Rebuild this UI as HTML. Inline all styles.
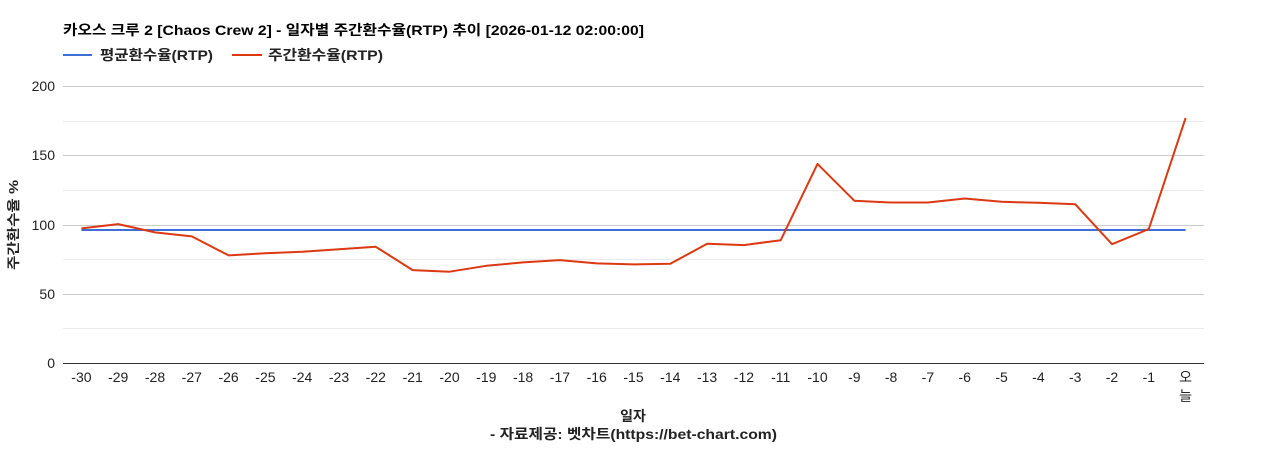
<!DOCTYPE html>
<html><head><meta charset="utf-8"><style>
html,body{margin:0;padding:0;background:#fff;}
svg{display:block;}
text{font-family:"Liberation Sans","Noto Sans CJK KR",sans-serif;}
</style></head><body>
<svg width="1268" height="450" viewBox="0 0 1268 450" xmlns="http://www.w3.org/2000/svg">
<rect width="1268" height="450" fill="#fff"/>
<text x="63" y="35" font-size="14" font-weight="bold" fill="#000" textLength="581" lengthAdjust="spacingAndGlyphs">카오스 크루 2 [Chaos Crew 2] - 일자별 주간환수율(RTP) 추이 [2026-01-12 02:00:00]</text>
<line x1="63" y1="55" x2="92" y2="55" stroke="#3d6fd6" stroke-width="2"/>
<text x="100" y="60" font-size="14" font-weight="bold" fill="#222" textLength="113" lengthAdjust="spacingAndGlyphs">평균환수율(RTP)</text>
<line x1="232" y1="55" x2="262" y2="55" stroke="#dc3912" stroke-width="2"/>
<text x="268" y="60" font-size="14" font-weight="bold" fill="#222" textLength="115" lengthAdjust="spacingAndGlyphs">주간환수율(RTP)</text>
<g stroke="#ebebeb" stroke-width="1">
<line x1="63" y1="121.5" x2="1204" y2="121.5"/>
<line x1="63" y1="190.5" x2="1204" y2="190.5"/>
<line x1="63" y1="259.5" x2="1204" y2="259.5"/>
<line x1="63" y1="328.5" x2="1204" y2="328.5"/>
</g>
<g stroke="#cccccc" stroke-width="1">
<line x1="63" y1="86.5" x2="1204" y2="86.5"/>
<line x1="63" y1="155.5" x2="1204" y2="155.5"/>
<line x1="63" y1="225.5" x2="1204" y2="225.5"/>
<line x1="63" y1="294.5" x2="1204" y2="294.5"/>
</g>
<line x1="63" y1="363.5" x2="1204" y2="363.5" stroke="#333" stroke-width="1"/>
<g font-size="14" fill="#222" text-anchor="end">
<text x="55" y="91">200</text>
<text x="55" y="160">150</text>
<text x="55" y="230">100</text>
<text x="55" y="299">50</text>
<text x="55" y="368">0</text>
</g>
<text transform="translate(18,225) rotate(-90)" font-size="13" font-weight="bold" fill="#222" text-anchor="middle" textLength="90" lengthAdjust="spacingAndGlyphs">주간환수율 %</text>
<line x1="81.4" y1="230" x2="1185.6" y2="230" stroke="#3d6fd6" stroke-width="2"/>
<polyline fill="none" stroke="#dc3912" stroke-width="2" stroke-linejoin="round" points="81.4,228.4 118.2,224.1 155.0,232.4 191.8,236.4 228.6,255.4 265.4,253.2 302.2,251.8 339.0,249.2 375.8,246.8 412.7,270.1 449.5,271.7 486.3,265.8 523.1,262.4 559.9,260.1 596.7,263.4 633.5,264.4 670.3,263.8 707.1,243.8 743.9,245.1 780.7,240.2 817.5,163.9 854.3,200.7 891.1,202.5 927.9,202.5 964.7,198.5 1001.6,201.8 1038.4,202.8 1075.2,204.2 1112.0,244.2 1148.8,229.1 1185.6,118.0"/>
<g font-size="14" fill="#222" text-anchor="middle">
<text x="81.4" y="382">-30</text>
<text x="118.2" y="382">-29</text>
<text x="155.0" y="382">-28</text>
<text x="191.8" y="382">-27</text>
<text x="228.6" y="382">-26</text>
<text x="265.4" y="382">-25</text>
<text x="302.2" y="382">-24</text>
<text x="339.0" y="382">-23</text>
<text x="375.8" y="382">-22</text>
<text x="412.7" y="382">-21</text>
<text x="449.5" y="382">-20</text>
<text x="486.3" y="382">-19</text>
<text x="523.1" y="382">-18</text>
<text x="559.9" y="382">-17</text>
<text x="596.7" y="382">-16</text>
<text x="633.5" y="382">-15</text>
<text x="670.3" y="382">-14</text>
<text x="707.1" y="382">-13</text>
<text x="743.9" y="382">-12</text>
<text x="780.7" y="382">-11</text>
<text x="817.5" y="382">-10</text>
<text x="854.3" y="382">-9</text>
<text x="891.1" y="382">-8</text>
<text x="927.9" y="382">-7</text>
<text x="964.7" y="382">-6</text>
<text x="1001.6" y="382">-5</text>
<text x="1038.4" y="382">-4</text>
<text x="1075.2" y="382">-3</text>
<text x="1112.0" y="382">-2</text>
<text x="1148.8" y="382">-1</text>
<text x="1185.6" y="382">오</text>
<text x="1185.6" y="401">늘</text>
</g>
<text x="633" y="421" font-size="14" font-weight="bold" fill="#222" text-anchor="middle">일자</text>
<text x="633.5" y="439" font-size="14" font-weight="bold" fill="#222" text-anchor="middle" textLength="287" lengthAdjust="spacingAndGlyphs">- 자료제공: 벳차트(https://bet-chart.com)</text>
</svg>
</body></html>
